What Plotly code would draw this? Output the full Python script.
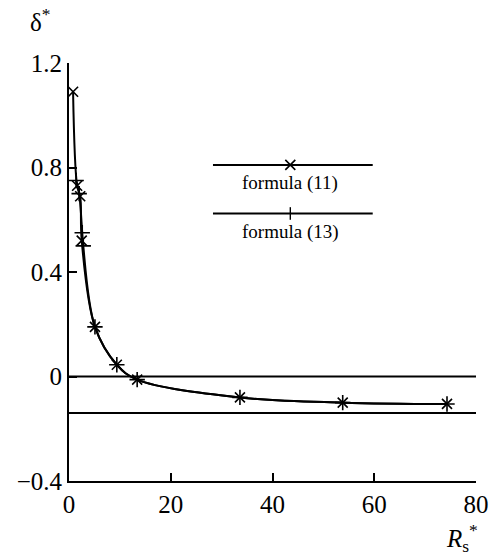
import plotly.graph_objects as go

# formula (11) points (x markers)
rs_11 = [0.8, 1.6, 2.2, 2.5, 5.1, 9.4, 13.4, 33.6, 53.8, 74.3]
delta_11 = [1.09, 0.73, 0.69, 0.52, 0.19, 0.045, -0.012, -0.08, -0.10, -0.105]
# formula (13) points (+ markers)
rs_13 = [1.4, 2.0, 2.6, 2.8, 5.1, 9.4, 13.4, 33.6, 53.8, 74.3]
delta_13 = [0.75, 0.70, 0.55, 0.50, 0.19, 0.045, -0.012, -0.08, -0.10, -0.105]
# horizontal reference levels
ref_levels = [0.0, -0.14]

x_ticks = [0, 20, 40, 60, 80]
y_ticks = [-0.4, 0, 0.4, 0.8, 1.2]
y_tick_text = ["\u22120.4", "0", "0.4", "0.8", "1.2"]

FONT = "Liberation Serif"

fig = go.Figure()

for lv in ref_levels:
    fig.add_trace(go.Scatter(x=[0, 80], y=[lv, lv], mode="lines",
                             line=dict(color="black", width=2), showlegend=False))

fig.add_trace(go.Scatter(x=rs_11, y=delta_11, mode="lines+markers", line_shape="spline",
                         line=dict(color="black", width=2),
                         marker=dict(symbol="x-thin", size=10, line=dict(color="black", width=1.6)),
                         showlegend=False))
fig.add_trace(go.Scatter(x=rs_13, y=delta_13, mode="lines+markers", line_shape="spline",
                         line=dict(color="black", width=2),
                         marker=dict(symbol="cross-thin", size=11, line=dict(color="black", width=1.6)),
                         showlegend=False))

# hand-drawn legend inside the plot
fig.add_shape(type="line", x0=28.3, x1=59.7, y0=0.81, y1=0.81, line=dict(color="black", width=2))
fig.add_shape(type="line", x0=28.3, x1=59.7, y0=0.624, y1=0.624, line=dict(color="black", width=2))
fig.add_trace(go.Scatter(x=[43.5], y=[0.81], mode="markers", showlegend=False,
                         marker=dict(symbol="x-thin", size=10, line=dict(color="black", width=1.6))))
fig.add_trace(go.Scatter(x=[43.5], y=[0.624], mode="markers", showlegend=False,
                         marker=dict(symbol="line-ns", size=9, line=dict(color="black", width=1.4))))
fig.add_annotation(x=43.5, y=0.74, text="formula (11)", showarrow=False,
                   font=dict(family=FONT, size=19, color="black"))
fig.add_annotation(x=43.5, y=0.555, text="formula (13)", showarrow=False,
                   font=dict(family=FONT, size=19, color="black"))

# axis titles
fig.add_annotation(xref="paper", yref="paper", x=-0.071, y=1.103, xanchor="center", yanchor="middle",
                   text="δ<sup>*</sup>", showarrow=False,
                   font=dict(family=FONT, size=25, color="black"))
fig.add_annotation(xref="paper", yref="paper", x=0.966, y=-0.136, xanchor="center", yanchor="middle",
                   text="<i>R</i><sub>s</sub><sup>*</sup>", showarrow=False,
                   font=dict(family=FONT, size=25, color="black"))

fig.update_xaxes(range=[0, 80], tickvals=x_ticks, ticks="inside", ticklen=8, tickwidth=1.5,
                 tickcolor="black", showline=True, linecolor="black", linewidth=2,
                 showgrid=False, zeroline=False, automargin=False,
                 tickfont=dict(family=FONT, size=25, color="black"))
fig.update_yaxes(range=[-0.4, 1.2], tickvals=y_ticks, ticktext=y_tick_text, ticks="inside",
                 ticklen=8, tickwidth=1.5, tickcolor="black", showline=True, linecolor="black",
                 linewidth=2, showgrid=False, zeroline=False, automargin=False,
                 tickfont=dict(family=FONT, size=25, color="black"))

fig.update_layout(width=490, height=556, margin=dict(l=69, r=14, t=63, b=75),
                  plot_bgcolor="white", paper_bgcolor="white", showlegend=False)

# drop the browser's default body margin so the figure sits at the page corner
fig.write_html("out.html", config={"displayModeBar": False},
               post_script="document.body.style.margin='0';")
